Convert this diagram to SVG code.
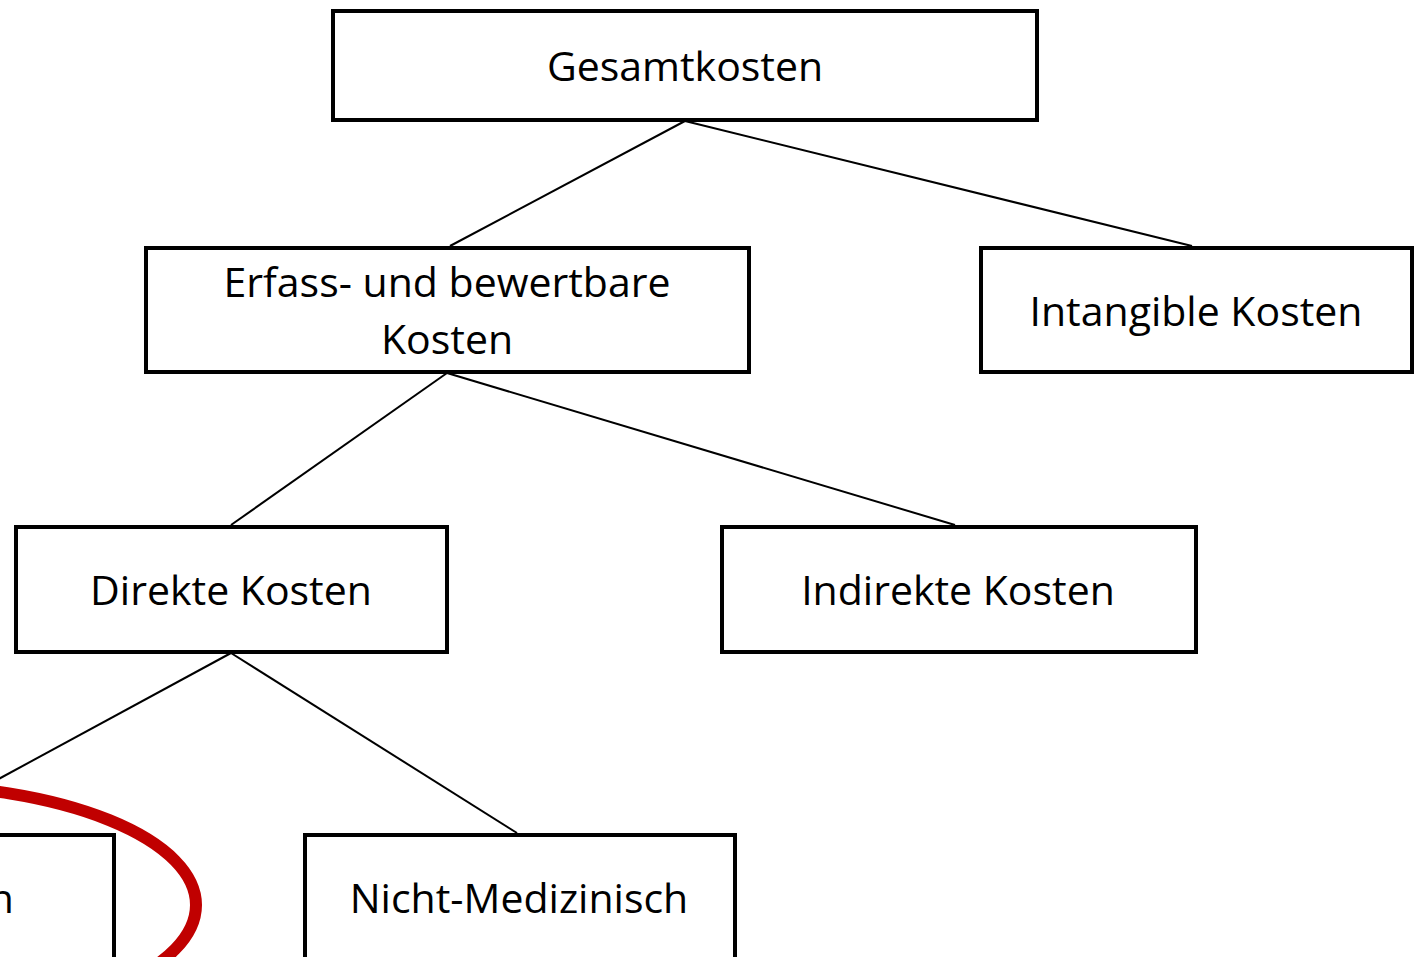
<svg xmlns="http://www.w3.org/2000/svg" width="1416" height="957" viewBox="0 0 1416 957">
<style>
.box{fill:#fff;stroke:#000;stroke-width:4}
.lbl{font-family:"Open Sans","Liberation Sans",sans-serif;font-size:41px;fill:#000;text-anchor:middle}
.con{stroke:#000;stroke-width:2;fill:none}
</style>
<rect width="1416" height="957" fill="#fff"/>
<g id="connectors">
<line class="con" x1="685" y1="121" x2="450" y2="246"/>
<line class="con" x1="685" y1="121" x2="1192" y2="246"/>
<line class="con" x1="447" y1="373" x2="231" y2="525"/>
<line class="con" x1="447" y1="373" x2="955" y2="525"/>
<line class="con" x1="231" y1="653" x2="-101" y2="833"/>
<line class="con" x1="231" y1="653" x2="517" y2="833"/>
</g>
<g id="gesamtkosten">
<rect class="box" x="333" y="11" width="704" height="109"/>
<text class="lbl" x="685" y="81">Gesamtkosten</text>
</g>
<g id="erfass">
<rect class="box" x="146" y="248" width="603" height="124"/>
<text class="lbl" x="447" y="297">Erfass- und bewertbare</text>
<text class="lbl" x="447" y="354">Kosten</text>
</g>
<g id="intangible">
<rect class="box" x="981" y="248" width="431" height="124"/>
<text class="lbl" x="1196" y="326">Intangible Kosten</text>
</g>
<g id="direkte">
<rect class="box" x="16" y="527" width="431" height="125"/>
<text class="lbl" x="231" y="605">Direkte Kosten</text>
</g>
<g id="indirekte">
<rect class="box" x="722" y="527" width="474" height="125"/>
<text class="lbl" x="958" y="605">Indirekte Kosten</text>
</g>
<g id="medizinisch">
<rect class="box" x="-320" y="835" width="434" height="140"/>
<text class="lbl" x="14" y="913" style="text-anchor:end">Medizinisch</text>
</g>
<g id="nicht-medizinisch">
<rect class="box" x="305" y="835" width="430" height="140"/>
<text class="lbl" x="519" y="913">Nicht-Medizinisch</text>
</g>
<ellipse id="highlight" cx="-100" cy="905" rx="296" ry="120" fill="none" stroke="#C00000" stroke-width="12"/>
</svg>
